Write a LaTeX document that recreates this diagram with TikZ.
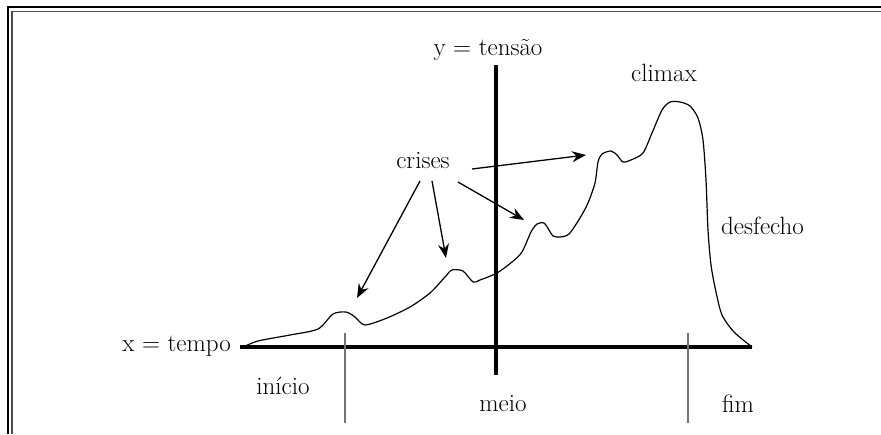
\documentclass[tikz,border=0pt]{standalone}
\usepackage{fontspec}
\usetikzlibrary{arrows.meta}
\begin{document}
\begin{tikzpicture}[x=1pt,y=-1pt,
  lbl/.style={inner sep=0pt,font=\fontsize{25}{29}\selectfont},
  axis/.style={line width=3.2pt},
  tickmark/.style={line width=1.6pt,draw=black!55},
  crv/.style={line width=1.2pt,line join=round},
  arr/.style={line width=1.3pt,-{Stealth[length=14pt,width=11pt]}}]
\useasboundingbox (0,0) rectangle (881,434);
\fill[white] (0,0) rectangle (881,434);
% frame
\draw[line width=2.2pt] (8,434) -- (8,7) -- (881,7);
\draw[line width=1.6pt,draw=black!70] (12,434) -- (12,11.5) -- (881,11.5);
% axes
\coordinate (xa0) at (240,347);
\coordinate (xa1) at (752,347);
\coordinate (ya0) at (496,65);
\coordinate (ya1) at (496,375);
\draw[axis] (xa0) -- (xa1);
\draw[axis] (ya0) -- (ya1);
% ticks
\coordinate (t1a) at (345,333); \coordinate (t1b) at (345,423);
\coordinate (t2a) at (688,333); \coordinate (t2b) at (688,423);
\draw[tickmark] (t1a) -- (t1b);
\draw[tickmark] (t2a) -- (t2b);
% curve
\draw[crv] plot[smooth,tension=0.45] coordinates {
(241,348) (258,341) (290,335) (318,329) (333,314) (346,312) (355,317) (365,325)
(387,318) (410,307) (430,293) (445,277) (452,270) (463,271) (473,282) (480,280)
(497,273) (512,262) (522,252) (531,232) (537,224) (544,223) (549,230) (553,236)
(560,237) (569,234) (580,218) (588,203) (595,183) (598,162) (602,154) (611,151)
(617,155) (623,162) (631,160) (643,153) (652,133) (662,110) (670,102) (680,102)
(690,106) (698,118) (703,140) (706,180) (708,230) (711,265) (716,292) (722,315)
(734,332) (752,347)};
% labels
\node[lbl] (ylab) at (488,50) {y = tensão};
\node[lbl] (climax) at (664,73) {climax};
\node[lbl] (crises) at (423,161) {crises};
\node[lbl,anchor=west] (desf) at (721,226) {desfecho};
\node[lbl,anchor=east] (xlab) at (231,346) {x = tempo};
\node[lbl] (inicio) at (283,386) {início};
\node[lbl] (meio) at (503,404) {meio};
\node[lbl] (fim) at (738,404) {fim};
% arrows
\coordinate (s1) at (420,181); \coordinate (e1) at (357,298);
\coordinate (s2) at (432,181); \coordinate (e2) at (446,258);
\coordinate (s3) at (458,182); \coordinate (e3) at (524,220);
\coordinate (s4) at (472,169); \coordinate (e4) at (586,155);
\draw[arr] (s1) -- (e1);
\draw[arr] (s2) -- (e2);
\draw[arr] (s3) -- (e3);
\draw[arr] (s4) -- (e4);
\end{tikzpicture}
\end{document}
